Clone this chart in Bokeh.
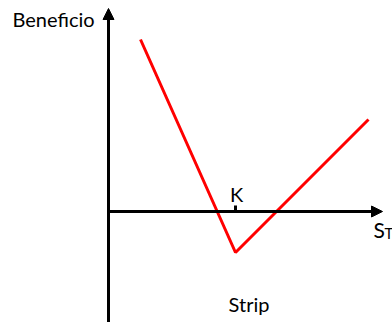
from bokeh.plotting import figure
from bokeh.models import Arrow, NormalHead, Range1d
from bokeh.core.properties import value
from bokeh.embed import file_html
from bokeh.resources import INLINE

# Data (profit diagram of a strip: 1 call + 2 puts at strike K)
spot = [32, 127, 260]          # S_T values
profit = [172, -41, 92]        # profit at those S_T values
strike = 127
x_axis_end = 274
y_axis_top = 203
y_axis_bottom = -115

FONT = value("Lato")

p = figure(width=392, height=322, output_backend="svg", toolbar_location=None,
           x_range=Range1d(-108, 284), y_range=Range1d(-111, 211),
           min_border=0)
p.axis.visible = False
p.grid.visible = False
p.outline_line_color = None
p.background_fill_color = "white"

# axes with arrow heads
p.add_layout(Arrow(end=NormalHead(size=11, fill_color="black", fill_alpha=1.0,
                                  line_color="black", line_width=1),
                   x_start=0, y_start=0, x_end=x_axis_end, y_end=0,
                   line_width=3, line_color="black"))
p.add_layout(Arrow(end=NormalHead(size=11, fill_color="black", fill_alpha=1.0,
                                  line_color="black", line_width=1),
                   x_start=0, y_start=y_axis_bottom, x_end=0, y_end=y_axis_top,
                   line_width=3, line_color="black"))

# strike tick
p.segment(x0=[strike], y0=[0], x1=[strike], y1=[6], line_width=3, line_color="black")

# profit line
p.line(spot, profit, line_color="#ff0000", line_width=3)

# labels
p.text(x=[-96], y=[193], text=["Beneficio"], text_font=FONT, text_font_size="20px",
       text_align="left", text_baseline="alphabetic", text_color="black")
p.text(x=[strike + 1], y=[18], text=["K"], text_font=FONT, text_font_size="20px",
       text_align="center", text_baseline="alphabetic", text_color="black")
p.text(x=[265], y=[-18], text=["S"], text_font=FONT, text_font_size="21px",
       text_align="left", text_baseline="alphabetic", text_color="black")
p.text(x=[276], y=[-21], text=["T"], text_font=FONT, text_font_size="15px",
       text_align="left", text_baseline="alphabetic", text_color="black")
p.text(x=[140.5], y=[-92], text=["Strip"], text_font=FONT, text_font_size="20px",
       text_align="center", text_baseline="alphabetic", text_color="black")

open("out.html", "w").write(file_html(p, INLINE))
